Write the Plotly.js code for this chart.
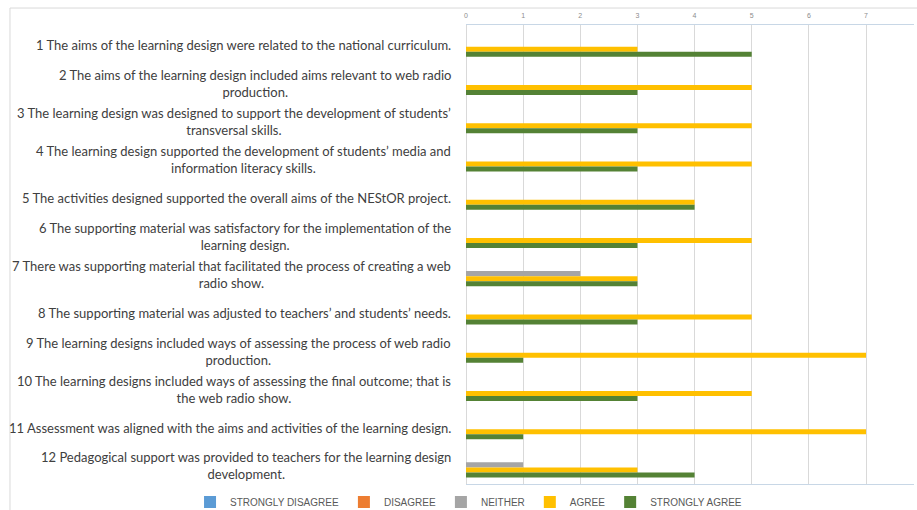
<!DOCTYPE html>
<html>
<head>
<meta charset="utf-8">
<script src="https://cdn.plot.ly/plotly-3.0.1.min.js"></script>
<style>html,body{margin:0;padding:0;background:#fff;}#chart{width:917px;height:510px;}</style>
</head>
<body>
<div id="chart"></div>
<script>
const categories = ["Q1","Q2","Q3","Q4","Q5","Q6","Q7","Q8","Q9","Q10","Q11","Q12"];
const labels = [
  "1 The aims of the learning design were related to the national curriculum.",
  "2 The aims of the learning design included aims relevant to web radio<br>production.",
  "3 The learning design was designed to support the development of students’<br>transversal skills.",
  "4 The learning design supported the development of students’ media and<br>information literacy skills.",
  "5 The activities designed supported the overall aims of the NEStOR project.",
  "6 The supporting material was satisfactory for the implementation of the<br>learning design.",
  "7 There was supporting material that facilitated the process of creating a web<br>radio show.",
  "8 The supporting material was adjusted to teachers’ and students’ needs.",
  "9 The learning designs included ways of assessing the process of web radio<br>production.",
  "10 The learning designs included ways of assessing the final outcome; that is<br>the web radio show.",
  "11 Assessment was aligned with the aims and activities of the learning design.",
  "12 Pedagogical support was provided to teachers for the learning design<br>development."
];
const seriesNames = ["STRONGLY DISAGREE","DISAGREE","NEITHER","AGREE","STRONGLY AGREE"];
const stronglyDisagree = [0,0,0,0,0,0,0,0,0,0,0,0];
const disagree         = [0,0,0,0,0,0,0,0,0,0,0,0];
const neither          = [0,0,0,0,0,0,2,0,0,0,0,1];
const agree            = [3,5,5,5,4,5,3,5,7,5,7,3];
const stronglyAgree    = [5,3,3,3,4,3,3,3,1,3,1,4];
const xTicks = [0,1,2,3,4,5,6,7];

const colors = ["#5B9BD5","#ED7D31","#A5A5A5","#FFC000","#548235"];
const seriesValues = [stronglyDisagree, disagree, neither, agree, stronglyAgree];

const traces = seriesValues.map((vals, i) => ({
  type: "bar",
  orientation: "h",
  name: seriesNames[i],
  x: vals,
  y: categories,
  marker: {color: colors[i], line: {width: 0}},
  hoverinfo: "x+name"
}));

const annotations = categories.map((c, i) => ({
  xref: "paper", yref: "y",
  x: -0.029, y: c,
  yshift: -1,
  text: labels[i],
  showarrow: false,
  xanchor: "right", yanchor: "middle",
  align: "center",
  font: {family: "Lato, 'Liberation Sans', sans-serif", size: 13, color: "#404040"}
}));

const layout = {
  width: 917, height: 510,
  margin: {l: 466, r: 3, t: 25, b: 26, autoexpand: false},
  paper_bgcolor: "#ffffff",
  plot_bgcolor: "#ffffff",
  barmode: "group",
  bargap: 0.34,
  bargroupgap: 0,
  showlegend: true,
  legend: {
    orientation: "h",
    x: -0.616, xanchor: "left",
    y: -0.039, yanchor: "middle",
    bgcolor: "rgba(0,0,0,0)",
    font: {family: "'Liberation Sans', sans-serif", size: 10, color: "#595959"},
    itemwidth: 30,
    tracegroupgap: 0,
    traceorder: "normal"
  },
  xaxis: {
    side: "top",
    range: [0, 7.84],
    tickvals: xTicks,
    ticktext: xTicks.map(String),
    ticks: "",
    ticklabelstandoff: 3,
    showgrid: true,
    gridcolor: "#d9d9d9",
    gridwidth: 1,
    zeroline: true,
    zerolinecolor: "#d9d9d9",
    showline: true,
    mirror: true,
    linecolor: "#c8d7e6",
    linewidth: 1,
    tickfont: {family: "'Liberation Sans', sans-serif", size: 7, color: "#8c8c8c"},
    fixedrange: true
  },
  yaxis: {
    type: "category",
    autorange: "reversed",
    showticklabels: false,
    showgrid: false,
    zeroline: false,
    showline: false,
    ticks: "",
    fixedrange: true
  },
  annotations: annotations,
  shapes: [{
    type: "rect", xref: "paper", yref: "paper",
    x0: -1.0179, x1: 1.2, y0: -0.2, y1: 1.037,
    line: {color: "#d9d9d9", width: 1},
    fillcolor: "rgba(0,0,0,0)",
    layer: "below"
  }]
};

Plotly.newPlot("chart", traces, layout, {displayModeBar: false, staticPlot: true});
</script>
</body>
</html>
